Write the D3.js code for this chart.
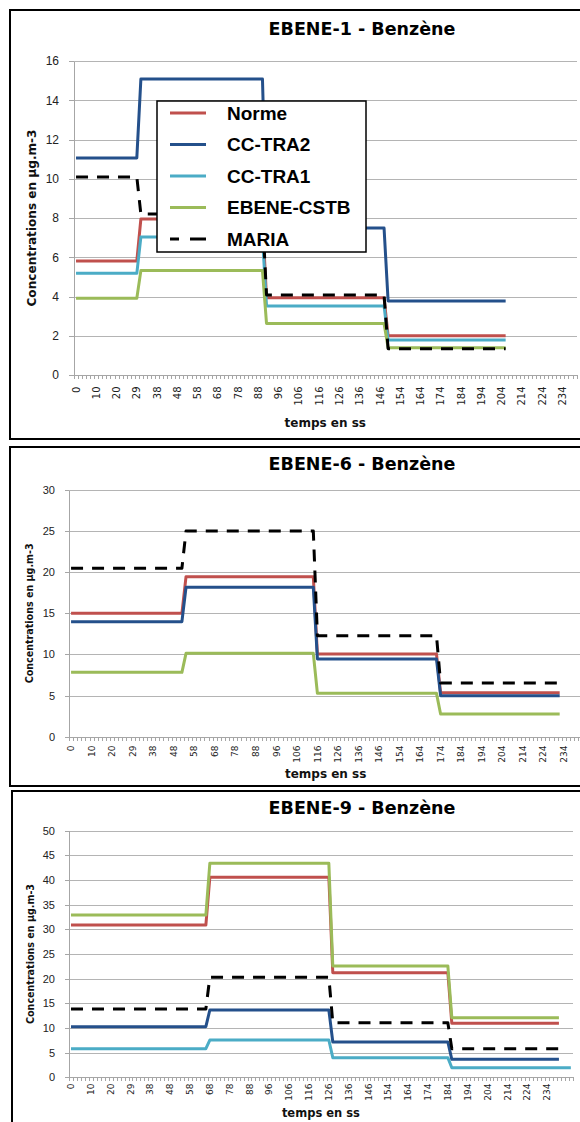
<!DOCTYPE html>
<html lang="fr">
<head>
<meta charset="utf-8">
<script src="https://d3js.org/d3.v7.min.js"></script>
<style>
  body { margin: 0; background: #fff; }
  svg { display: block; font-family: "DejaVu Sans", sans-serif; }
  .grid line { stroke: #b4b4b4; stroke-width: 1; shape-rendering: crispEdges; }
  .axis path, .axis line { stroke: #a6a6a6; shape-rendering: crispEdges; }
  .axis text { fill: #222; }
  .title { font-weight: bold; fill: #000; }
  .atitle { font-weight: bold; fill: #111; }
  .serie { fill: none; stroke-width: 3; stroke-linejoin: round; }
  .legend text { font-family: "Liberation Sans", Arial, sans-serif; font-weight: bold; font-size: 19px; }
</style>
</head>
<body>
<script>
    // category axis labels (one label every 5 categories)
    var tickLabels = [0, 10, 20, 29, 38, 48, 58, 68, 78, 88, 96, 106, 116, 126, 136, 146, 154, 164, 174, 184, 194, 204, 214, 224, 234];
    var labelEvery = 5;
    var seriesNames = ["Norme", "CC-TRA2", "CC-TRA1", "EBENE-CSTB", "MARIA"];

    // EBENE-1 : last category of each level, and the 4 levels of every serie
    var breaks1 = [15, 46, 76];
    var end1 = 106;
    var norme1 = [5.81, 7.95, 3.94, 2.0];
    var tra2_1 = [11.06, 15.08, 7.49, 3.77];
    var tra1_1 = [5.18, 7.03, 3.52, 1.78];
    var cstb1 = [3.91, 5.32, 2.63, 1.39];
    var maria1 = [10.09, 8.2, 4.08, 1.34];

    // EBENE-6 (pas de CC-TRA1)
    var breaks6 = [27, 59, 89];
    var end6 = 119;
    var norme6 = [15.0, 19.46, 10.06, 5.35];
    var tra2_6 = [13.99, 18.17, 9.45, 4.99];
    var cstb6 = [7.83, 10.14, 5.27, 2.76];
    var maria6 = [20.48, 25.0, 12.29, 6.53];

    // EBENE-9
    var breaks9 = [34, 65, 95];
    var end9 = 123;
    var endTra1_9 = 126;
    var norme9 = [30.87, 40.55, 21.2, 10.95];
    var tra2_9 = [10.27, 13.65, 7.16, 3.64];
    var tra1_9 = [5.81, 7.56, 3.98, 1.95];
    var cstb9 = [32.9, 43.39, 22.57, 12.09];
    var maria9 = [13.85, 20.27, 11.08, 5.81];

    var colors = {
        "Norme": "#c0504d",
        "CC-TRA2": "#24508b",
        "CC-TRA1": "#4bacc6",
        "EBENE-CSTB": "#9bbb59",
        "MARIA": "#000"
    };

    var panels = [
        {
            title: "EBENE-1 - Benzène", box: [10, 10, 700, 429], titleY: 35,
            left: 74, band: 4.053, nCat: 124, yTop: 61, yBottom: 375, yMax: 16, yStep: 2,
            yTick: 5, yFont: 12, xFont: 10, xLabelTop: 386.5,
            xTitleY: 427, xTitleFont: 12, yTitleX: 35.5, yTitleLen: 177, yTitleFont: 13,
            breaks: breaks1, legend: true,
            series: [
                {name: "Norme", values: norme1, end: end1},
                {name: "CC-TRA2", values: tra2_1, end: end1},
                {name: "CC-TRA1", values: tra1_1, end: end1},
                {name: "EBENE-CSTB", values: cstb1, end: end1},
                {name: "MARIA", values: maria1, end: end1}
            ]
        },
        {
            title: "EBENE-6 - Benzène", box: [10, 447, 700, 339], titleY: 470,
            left: 69, band: 4.106, nCat: 125, yTop: 490, yBottom: 736.7, yMax: 30, yStep: 5,
            yTick: 4, yFont: 11, xFont: 9, xLabelTop: 745.5,
            xTitleY: 778, xTitleFont: 12, yTitleX: 33, yTitleLen: 140, yTitleFont: 11,
            breaks: breaks6, legend: false,
            series: [
                {name: "Norme", values: norme6, end: end6},
                {name: "CC-TRA2", values: tra2_6, end: end6},
                {name: "EBENE-CSTB", values: cstb6, end: end6},
                {name: "MARIA", values: maria6, end: end6}
            ]
        },
        {
            title: "EBENE-9 - Benzène", box: [12, 791, 700, 360], titleY: 814,
            left: 69, band: 3.967, nCat: 127, yTop: 830.7, yBottom: 1077.3, yMax: 50, yStep: 5,
            yTick: 4, yFont: 11, xFont: 9, xLabelTop: 1083.5,
            xTitleY: 1117, xTitleFont: 11.5, yTitleX: 34, yTitleLen: 140, yTitleFont: 11,
            breaks: breaks9, legend: false,
            series: [
                {name: "Norme", values: norme9, end: end9},
                {name: "CC-TRA2", values: tra2_9, end: end9},
                {name: "CC-TRA1", values: tra1_9, end: endTra1_9},
                {name: "EBENE-CSTB", values: cstb9, end: end9},
                {name: "MARIA", values: maria9, end: end9}
            ]
        }
    ];

    var svg = d3.select("body").append("svg")
        .attr("width", 580)
        .attr("height", 1122);

    // step line : each level is held until its break, then one category to climb/drop
    function stepPoints(values, breaks, end) {
        var pts = [[0, values[0]]];
        breaks.forEach(function (b, i) {
            pts.push([b, values[i]]);
            pts.push([b + 1, values[i + 1]]);
        });
        pts.push([end, values[values.length - 1]]);
        return pts;
    }

    panels.forEach(function (p) {
        var g = svg.append("g");
        var right = p.left + p.band * p.nCat;

        g.append("rect")
            .attr("x", p.box[0]).attr("y", p.box[1])
            .attr("width", p.box[2]).attr("height", p.box[3])
            .attr("fill", "#fff")
            .attr("stroke", "#000")
            .attr("stroke-width", 2);

        var x = d3.scaleLinear()
            .domain([-0.5, p.nCat - 0.5])
            .range([p.left, right]);
        var y = d3.scaleLinear()
            .domain([0, p.yMax])
            .range([p.yBottom, p.yTop]);
        var yTicks = d3.range(0, p.yMax + p.yStep / 2, p.yStep);

        // gridlines
        g.append("g").attr("class", "grid")
            .selectAll("line")
            .data(yTicks)
            .enter().append("line")
            .attr("x1", p.left).attr("x2", right)
            .attr("y1", function (d) { return Math.round(y(d)) + 0.5; })
            .attr("y2", function (d) { return Math.round(y(d)) + 0.5; });

        // y axis
        g.append("g").attr("class", "axis")
            .attr("transform", "translate(" + p.left + ",0)")
            .call(d3.axisLeft(y).tickValues(yTicks).tickSize(p.yTick).tickSizeOuter(0).tickPadding(10))
            .selectAll("text")
            .style("font-size", p.yFont + "px");

        // x axis : one tick between each category
        var bounds = d3.range(p.nCat + 1).map(function (i) { return i - 0.5; });
        g.append("g").attr("class", "axis")
            .attr("transform", "translate(0," + p.yBottom + ")")
            .call(d3.axisBottom(x).tickValues(bounds).tickSize(4).tickSizeOuter(0).tickFormat(""));

        g.append("g").attr("class", "axis")
            .selectAll("text")
            .data(tickLabels)
            .enter().append("text")
            .attr("transform", function (d, i) {
                return "translate(" + x(i * labelEvery) + "," + p.xLabelTop + ") rotate(-90)";
            })
            .attr("text-anchor", "end")
            .attr("dy", "0.35em")
            .style("font-size", p.xFont + "px")
            .text(function (d) { return d; });

        // series
        var line = d3.line()
            .x(function (d) { return x(d[0]); })
            .y(function (d) { return y(d[1]); });

        p.series.forEach(function (s) {
            g.append("path")
                .attr("class", "serie")
                .attr("d", line(stepPoints(s.values, p.breaks, s.end)))
                .attr("stroke", colors[s.name])
                .attr("stroke-dasharray", s.name === "MARIA" ? "12,9" : null);
        });

        // titles
        g.append("text")
            .attr("class", "title")
            .attr("x", 362)
            .attr("y", p.titleY)
            .attr("text-anchor", "middle")
            .style("font-size", "17.5px")
            .text(p.title);

        g.append("text")
            .attr("class", "atitle")
            .attr("x", (p.left + right) / 2)
            .attr("y", p.xTitleY)
            .attr("text-anchor", "middle")
            .style("font-size", p.xTitleFont + "px")
            .text("temps en ss");

        g.append("text")
            .attr("class", "atitle")
            .attr("transform", "translate(" + p.yTitleX + "," + (p.yTop + p.yBottom) / 2 + ") rotate(-90)")
            .attr("text-anchor", "middle")
            .attr("textLength", p.yTitleLen)
            .attr("lengthAdjust", "spacingAndGlyphs")
            .style("font-size", p.yTitleFont + "px")
            .text("Concentrations en µg.m-3");

        if (p.legend) {
            var lg = g.append("g").attr("class", "legend");
            lg.append("rect")
                .attr("x", 157).attr("y", 101)
                .attr("width", 209).attr("height", 151)
                .attr("fill", "#fff")
                .attr("stroke", "#000")
                .attr("stroke-width", 1.5);
            var items = lg.selectAll("g.item")
                .data(seriesNames)
                .enter().append("g")
                .attr("class", "item")
                .attr("transform", function (d, i) { return "translate(0," + (113 + i * 31.5) + ")"; });
            items.append("line")
                .attr("x1", 170).attr("x2", 206)
                .attr("stroke", function (d) { return colors[d]; })
                .attr("stroke-width", 3)
                .attr("stroke-dasharray", function (d) { return d === "MARIA" ? "9,11,16" : null; });
            items.append("text")
                .attr("x", 227)
                .attr("dy", "0.36em")
                .text(function (d) { return d; });
        }
    });
</script>
</body>
</html>
